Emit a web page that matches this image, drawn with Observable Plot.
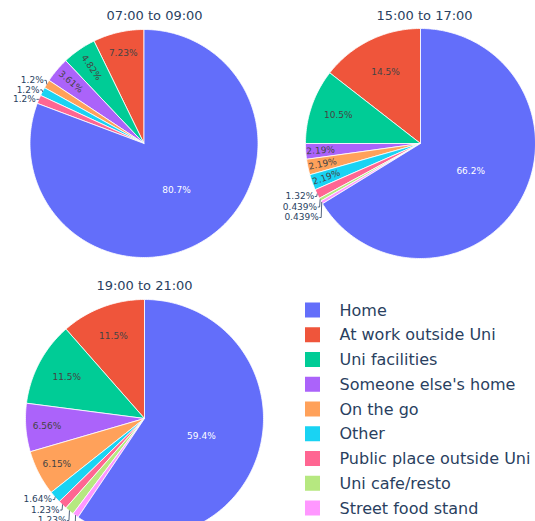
<!DOCTYPE html>
<html>
<head>
<meta charset="utf-8">
<script src="https://cdn.jsdelivr.net/npm/d3@7"></script>
<script src="https://cdn.jsdelivr.net/npm/@observablehq/plot@0.6"></script>
<style>
  html, body { margin: 0; padding: 0; background: white; }
</style>
</head>
<body>
<div id="chart"></div>
<script>
// ---- data ----
const categories = ["Home", "At work outside Uni", "Uni facilities", "Someone else's home", "On the go", "Other", "Public place outside Uni", "Uni cafe/resto", "Street food stand"];
const colors = ["#636efa", "#EF553B", "#00cc96", "#ab63fa", "#FFA15A", "#19d3f3", "#FF6692", "#B6E880", "#FF97FF"];
const periods = ["07:00 to 09:00", "15:00 to 17:00", "19:00 to 21:00"];
const counts0709 = [67, 6, 4, 3, 1, 1, 1, 0, 0];
const counts1517 = [151, 33, 24, 5, 5, 5, 3, 1, 1];
const counts1921 = [145, 28, 28, 16, 15, 4, 3, 3, 2];

// ---- layout ----
const W = 535, H = 521;
const pies = [
  {cx: 143.5, cy: 143, r: 114, tx: 154, ty: 15},
  {cx: 420, cy: 143, r: 115, tx: 424, ty: 15},
  {cx: 144, cy: 418, r: 119, tx: 144, ty: 285}
];
const allCounts = [counts0709, counts1517, counts1921];
const fmt = v => d3.format(".3~r")(v) + "%";
const order = [1, 2, 3, 4, 5, 6, 7, 8, 0]; // counter-clockwise from 12 o'clock
const pt = (p, rad, th) => [p.cx + rad * Math.sin(th), p.cy - rad * Math.cos(th)];

const slicePts = [], inside = [], outside = [], leaders = [], titles = [];
allCounts.forEach((counts, pi) => {
  const p = pies[pi];
  titles.push({x: p.tx, y: p.ty, text: periods[pi]});
  const total = d3.sum(counts);
  let cum = 0;
  const outs = [];
  order.forEach(ci => {
    const f = counts[ci] / total;
    if (counts[ci] === 0) return;
    const t1 = 2 * Math.PI * (1 - cum);
    const t0 = t1 - 2 * Math.PI * f;
    cum += f;
    const key = pi + "-" + ci;
    const n = Math.max(2, Math.ceil((t1 - t0) / (Math.PI / 180)));
    slicePts.push({key, category: categories[ci], x: p.cx, y: p.cy});
    for (let k = 0; k <= n; k++) {
      const [x, y] = pt(p, p.r, t0 + (t1 - t0) * k / n);
      slicePts.push({key, category: categories[ci], x, y});
    }
    slicePts.push({key, category: categories[ci], x: p.cx, y: p.cy});
    const tm = (t0 + t1) / 2;
    const label = fmt(f * 100);
    if (f >= 0.02) {
      let rot = 0, rho;
      if (f < 0.05) {
        const deg = tm * 180 / Math.PI;
        rot = deg < 180 ? deg - 90 : deg - 270;
        rho = p.r * Math.min(0.87, 0.93 - 2.5 * f);
      } else {
        rho = p.r * (f >= 0.3 ? 0.5 : Math.min(0.87, 0.93 - 1.65 * f));
      }
      const [x, y] = pt(p, rho, tm);
      inside.push({x, y, text: label, rotate: rot, color: ci === 0 ? "white" : "#444"});
    } else {
      const [ex, ey] = pt(p, p.r, tm);
      outs.push({ex, ey, text: label, key});
    }
  });
  const lower = outs.filter(d => d.ey > p.cy).sort((a, b) => a.ey - b.ey);
  const upper = outs.filter(d => d.ey <= p.cy).sort((a, b) => b.ey - a.ey);
  let prev = -Infinity;
  lower.forEach(d => { d.y = Math.max(d.ey + 2.5, prev + 10.5); prev = d.y; });
  prev = Infinity;
  upper.forEach(d => { d.y = Math.min(d.ey, prev - 9.5); prev = d.y; });
  outs.forEach(d => {
    const left = d.ex < p.cx;
    d.x = left ? d.ex - 3 : d.ex + 3;
    d.anchor = left ? "end" : "start";
    outside.push(d);
    leaders.push({key: d.key, x: d.x + (left ? 1 : -1), y: d.y});
    leaders.push({key: d.key, x: d.ex + (left ? -0.5 : 0.5), y: d.y});
    leaders.push({key: d.key, x: d.ex, y: d.ey});
  });
});

const legendRows = categories.map((c, i) => ({category: c, y: 310 + i * 24.75}));

const chart = Plot.plot({
  width: W, height: H, margin: 0,
  x: {domain: [0, W], range: [0, W], axis: null},
  y: {domain: [0, H], range: [0, H], axis: null},
  color: {domain: categories, range: colors},
  style: {fontFamily: "DejaVu Sans", background: "white"},
  marks: [
    Plot.line(slicePts, {x: "x", y: "y", z: "key", fill: "category", stroke: "white", strokeWidth: 0.8, curve: "linear"}),
    Plot.text(inside, {x: "x", y: "y", text: "text", rotate: "rotate", fill: d => d.color, fontSize: 9}),
    Plot.line(leaders, {x: "x", y: "y", z: "key", stroke: "#2a3f5f", strokeWidth: 0.8}),
    Plot.text(outside.filter(d => d.anchor === "end"), {x: "x", y: "y", text: "text", textAnchor: "end", fill: "#2a3f5f", fontSize: 9}),
    Plot.text(titles, {x: "x", y: "y", text: "text", fill: "#2a3f5f", fontSize: 13}),
    Plot.rect(legendRows, {x1: 305, x2: 320, y1: d => d.y - 7.5, y2: d => d.y + 7.5, fill: "category"}),
    Plot.text(legendRows, {x: 339, y: "y", text: "category", textAnchor: "start", fill: "#2a3f5f", fontSize: 16})
  ]
});
document.getElementById("chart").appendChild(chart);
</script>
</body>
</html>
